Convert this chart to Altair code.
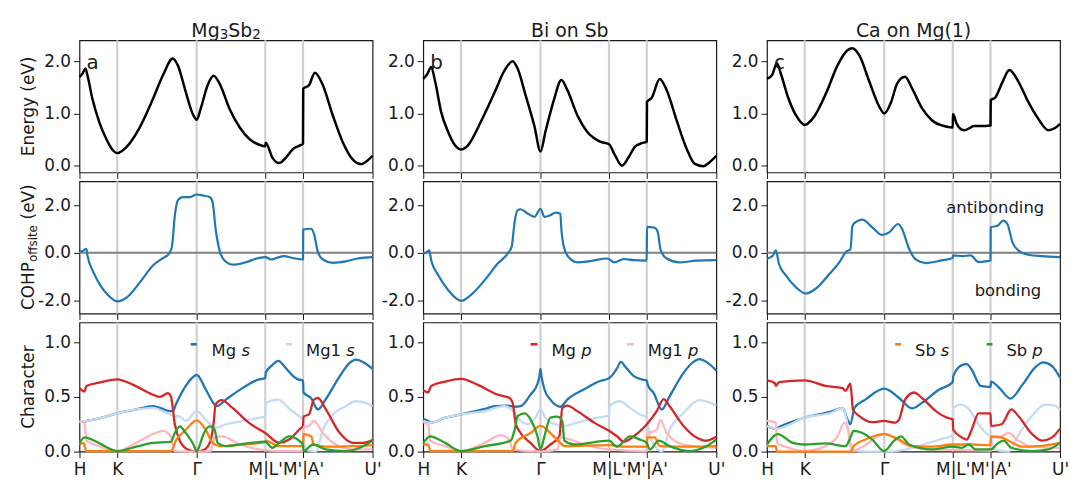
import json

import altair as alt
import pandas as pd

# ---------------------------------------------------------------------------
# k-path (shared by all panels)
# ---------------------------------------------------------------------------
K_TICKS = [0.0, 0.38, 1.18, 1.87, 2.25, 2.95]
K_NAMES = ["H", "K", "Γ", "M|L'", "M'|A'", "U'"]
K_LINES = [0.38, 1.18, 1.87, 2.25]

# column titles as (text, is_subscript) runs
MATERIALS = [
    [("Mg", False), ("3", True), ("Sb", False), ("2", True)],
    [("Bi on Sb", False)],
    [("Ca on Mg(1)", False)],
]
PANEL_TAGS = ["a", "b", "c"]

ORBITAL_COLORS = ["#1f77b4", "#c6dbef", "#d62728", "#ffb6c1", "#ff7f0e", "#2ca02c"]
LEGEND_WORDS = [["Mg", "Mg1"], ["Mg", "Mg1"], ["Sb", "Sb"]]
LEGEND_SHELLS = [["s", "s"], ["p", "p"], ["s", "p"]]
LEGEND_COLOR_IDX = [[0, 1], [2, 3], [4, 5]]

ENERGY_TICKS = [0.0, 1.0, 2.0]
COHP_TICKS = [-2.0, 0.0, 2.0]
CHAR_TICKS = [0.0, 0.5, 1.0]

# ---------------------------------------------------------------------------
# lowest conduction band, (k, E / eV)
# ---------------------------------------------------------------------------
BAND_A = [(0.00, 1.70), (0.03, 1.76), (0.06, 1.86), (0.08, 1.73), (0.13, 1.28), (0.20, 0.83),
          (0.27, 0.51), (0.33, 0.31), (0.38, 0.24), (0.47, 0.35), (0.60, 0.71), (0.74, 1.28),
          (0.84, 1.73), (0.94, 2.05), (0.99, 1.92), (1.07, 1.41), (1.14, 0.99), (1.18, 0.88),
          (1.22, 1.09), (1.29, 1.54), (1.35, 1.72), (1.41, 1.57), (1.51, 1.09), (1.61, 0.74),
          (1.71, 0.51), (1.81, 0.40), (1.87, 0.37), (1.875, 0.44), (1.94, 0.16), (2.01, 0.05),
          (2.08, 0.16), (2.15, 0.32), (2.21, 0.38), (2.25, 0.42), (2.252, 1.47), (2.31, 1.54),
          (2.37, 1.78), (2.45, 1.54), (2.55, 0.96), (2.65, 0.45), (2.75, 0.12), (2.83, 0.03),
          (2.90, 0.10), (2.95, 0.19)]
BAND_B = [(0.00, 1.66), (0.04, 1.75), (0.08, 1.89), (0.12, 1.61), (0.18, 1.03), (0.25, 0.65),
          (0.32, 0.39), (0.38, 0.31), (0.45, 0.39), (0.58, 0.84), (0.72, 1.41), (0.82, 1.83),
          (0.90, 2.00), (0.95, 1.86), (1.03, 1.35), (1.12, 0.75), (1.18, 0.27), (1.23, 0.65),
          (1.32, 1.29), (1.39, 1.64), (1.45, 1.45), (1.55, 0.97), (1.65, 0.65), (1.78, 0.46),
          (1.87, 0.41), (1.93, 0.20), (2.00, 0.00), (2.07, 0.17), (2.13, 0.36), (2.20, 0.43),
          (2.25, 0.46), (2.252, 1.22), (2.30, 1.30), (2.38, 1.66), (2.45, 1.45), (2.55, 0.87),
          (2.65, 0.33), (2.73, 0.04), (2.82, -0.01), (2.88, 0.06), (2.95, 0.19)]
BAND_C = [(0.00, 1.66), (0.05, 1.73), (0.10, 1.96), (0.14, 1.76), (0.21, 1.32), (0.29, 0.97),
          (0.38, 0.78), (0.46, 0.90), (0.60, 1.41), (0.71, 1.92), (0.81, 2.21), (0.86, 2.25),
          (0.93, 2.11), (1.03, 1.61), (1.13, 1.13), (1.18, 1.00), (1.25, 1.22), (1.31, 1.57),
          (1.39, 1.70), (1.46, 1.48), (1.56, 1.10), (1.66, 0.87), (1.80, 0.75), (1.87, 0.73),
          (1.872, 0.99), (1.91, 0.80), (1.95, 0.70), (1.99, 0.68), (2.04, 0.72), (2.08, 0.76),
          (2.15, 0.76), (2.25, 0.77), (2.252, 1.25), (2.30, 1.31), (2.37, 1.60), (2.44, 1.83),
          (2.53, 1.61), (2.63, 1.22), (2.73, 0.90), (2.83, 0.68), (2.90, 0.72), (2.95, 0.80)]

# ---------------------------------------------------------------------------
# offsite COHP of the band, (k, eV)
# ---------------------------------------------------------------------------
COHP_A = [(0.00, 0.03), (0.04, 0.10), (0.07, 0.17), (0.08, -0.11), (0.14, -0.81), (0.21, -1.37),
          (0.29, -1.79), (0.38, -2.04), (0.48, -1.86), (0.61, -1.23), (0.74, -0.53), (0.84, -0.22),
          (0.90, -0.04), (0.93, 0.24), (0.96, 1.57), (0.99, 2.20), (1.04, 2.34), (1.11, 2.34),
          (1.18, 2.45), (1.24, 2.41), (1.31, 2.34), (1.34, 2.13), (1.37, 1.01), (1.41, 0.10),
          (1.46, -0.32), (1.55, -0.50), (1.68, -0.39), (1.81, -0.21), (1.87, -0.18), (1.93, -0.28),
          (1.98, -0.22), (2.06, -0.14), (2.15, -0.22), (2.25, -0.28), (2.252, 0.98), (2.33, 1.01),
          (2.36, 0.80), (2.40, 0.03), (2.45, -0.28), (2.55, -0.42), (2.68, -0.36), (2.82, -0.22),
          (2.95, -0.18)]
COHP_B = [(0.00, -0.03), (0.05, 0.07), (0.06, 0.11), (0.08, -0.31), (0.15, -0.93), (0.25, -1.56),
          (0.38, -2.02), (0.48, -1.77), (0.62, -1.14), (0.75, -0.45), (0.85, -0.03), (0.89, 0.25),
          (0.92, 1.30), (0.95, 1.79), (0.98, 1.83), (1.05, 1.65), (1.12, 1.51), (1.18, 1.85),
          (1.22, 1.51), (1.28, 1.58), (1.33, 1.69), (1.38, 1.65), (1.39, 1.02), (1.42, 0.18),
          (1.47, -0.21), (1.55, -0.40), (1.68, -0.35), (1.85, -0.24), (1.87, -0.26), (1.92, -0.40),
          (2.02, -0.26), (2.12, -0.31), (2.25, -0.33), (2.252, 1.09), (2.33, 1.05), (2.36, 0.88),
          (2.39, 0.11), (2.45, -0.24), (2.58, -0.40), (2.75, -0.33), (2.95, -0.31)]
COHP_C = [(0.00, -0.25), (0.06, -0.11), (0.09, 0.10), (0.12, -0.46), (0.19, -0.95), (0.29, -1.44),
          (0.39, -1.71), (0.49, -1.51), (0.63, -0.88), (0.73, -0.39), (0.80, 0.06), (0.84, 0.14),
          (0.86, 1.14), (0.90, 1.31), (0.96, 1.39), (1.06, 1.07), (1.16, 0.75), (1.23, 0.86),
          (1.32, 1.21), (1.36, 1.00), (1.43, 0.17), (1.50, -0.29), (1.60, -0.43), (1.76, -0.32),
          (1.87, -0.22), (1.872, -0.11), (1.97, -0.14), (2.05, -0.11), (2.13, -0.39), (2.20, -0.36),
          (2.25, -0.32), (2.252, 1.07), (2.32, 1.14), (2.38, 1.35), (2.42, 1.21), (2.47, 0.45),
          (2.53, 0.10), (2.63, -0.08), (2.77, -0.14), (2.95, -0.18)]

# ---------------------------------------------------------------------------
# orbital character of the band, (k, fraction)
# ---------------------------------------------------------------------------
CHAR_A_MG_S = [(0.00, 0.28), (0.05, 0.27), (0.07, 0.28), (0.13, 0.29), (0.38, 0.35), (0.57, 0.385),
               (0.74, 0.415), (0.81, 0.40), (0.91, 0.37), (0.94, 0.37), (0.97, 0.43), (1.07, 0.60),
               (1.18, 0.70), (1.27, 0.57), (1.36, 0.43), (1.38, 0.415), (1.48, 0.48), (1.64, 0.58),
               (1.81, 0.66), (1.87, 0.67), (1.875, 0.72), (1.94, 0.79), (2.00, 0.83), (2.08, 0.76),
               (2.15, 0.69), (2.20, 0.66), (2.25, 0.65), (2.255, 0.54), (2.33, 0.49), (2.40, 0.385),
               (2.48, 0.48), (2.62, 0.69), (2.72, 0.81), (2.78, 0.84), (2.87, 0.81), (2.95, 0.755)]
CHAR_A_MG1_S = [(0.00, 0.27), (0.07, 0.28), (0.13, 0.29), (0.38, 0.35), (0.57, 0.385), (0.74, 0.40),
                (0.87, 0.355), (0.94, 0.33), (1.01, 0.32), (1.07, 0.28), (1.18, 0.37), (1.27, 0.29),
                (1.37, 0.22), (1.48, 0.25), (1.64, 0.28), (1.81, 0.31), (1.87, 0.32), (1.875, 0.445),
                (2.00, 0.475), (2.12, 0.385), (2.21, 0.325), (2.25, 0.29), (2.255, 0.08), (2.30, 0.01),
                (2.38, 0.0), (2.45, 0.20), (2.55, 0.34), (2.68, 0.415), (2.78, 0.46), (2.88, 0.445),
                (2.95, 0.415)]
CHAR_A_MG_P = [(0.00, 0.58), (0.05, 0.55), (0.07, 0.60), (0.20, 0.63), (0.38, 0.66), (0.54, 0.61),
               (0.74, 0.52), (0.81, 0.50), (0.89, 0.535), (0.92, 0.505), (0.96, 0.25), (1.01, 0.10),
               (1.09, 0.02), (1.18, 0.0), (1.26, 0.02), (1.32, 0.10), (1.35, 0.26), (1.37, 0.43),
               (1.43, 0.47), (1.54, 0.40), (1.71, 0.26), (1.87, 0.17), (2.01, 0.08), (2.11, 0.11),
               (2.21, 0.20), (2.25, 0.235), (2.255, 0.32), (2.31, 0.34), (2.36, 0.475), (2.40, 0.49),
               (2.48, 0.385), (2.62, 0.17), (2.75, 0.08), (2.85, 0.08), (2.95, 0.105)]
CHAR_A_MG1_P = [(0.00, 0.28), (0.05, 0.26), (0.07, 0.10), (0.20, 0.05), (0.38, 0.005), (0.54, 0.065),
                (0.74, 0.16), (0.84, 0.19), (0.92, 0.14), (0.955, 0.005), (1.18, 0.0), (1.32, 0.005),
                (1.36, 0.13), (1.44, 0.14), (1.61, 0.065), (1.81, 0.02), (2.01, 0.005), (2.25, 0.005),
                (2.255, 0.22), (2.31, 0.235), (2.36, 0.28), (2.45, 0.17), (2.58, 0.065), (2.75, 0.02),
                (2.95, 0.02)]
CHAR_A_SB_S = [(0.00, 0.065), (0.04, 0.08), (0.07, 0.005), (0.92, 0.005), (0.97, 0.10), (1.07, 0.20),
               (1.18, 0.285), (1.27, 0.20), (1.34, 0.08), (1.41, 0.05), (1.64, 0.065), (1.87, 0.09),
               (1.875, 0.10), (2.01, 0.05), (2.25, 0.05), (2.255, 0.16), (2.33, 0.14), (2.36, 0.065),
               (2.48, 0.045), (2.75, 0.05), (2.95, 0.06)]
CHAR_A_SB_P = [(0.00, 0.075), (0.05, 0.13), (0.17, 0.09), (0.38, 0.005), (0.57, 0.045), (0.74, 0.08),
               (0.92, 0.09), (0.96, 0.17), (1.01, 0.23), (1.07, 0.17), (1.15, 0.06), (1.18, 0.0),
               (1.21, 0.06), (1.24, 0.14), (1.31, 0.23), (1.36, 0.20), (1.39, 0.08), (1.47, 0.05),
               (1.68, 0.075), (1.87, 0.09), (1.94, 0.035), (2.01, 0.08), (2.11, 0.14), (2.21, 0.10),
               (2.25, 0.065), (2.255, 0.005), (2.35, 0.065), (2.48, 0.02), (2.68, 0.005), (2.82, 0.035),
               (2.95, 0.10)]

CHAR_B_MG_S = [(0.00, 0.30), (0.05, 0.28), (0.08, 0.265), (0.22, 0.31), (0.38, 0.34), (0.62, 0.39),
               (0.72, 0.415), (0.85, 0.42), (0.92, 0.41), (0.98, 0.415), (1.08, 0.52), (1.15, 0.62),
               (1.17, 0.69), (1.18, 0.755), (1.19, 0.69), (1.22, 0.57), (1.28, 0.475), (1.38, 0.41),
               (1.45, 0.475), (1.62, 0.57), (1.78, 0.645), (1.87, 0.67), (1.95, 0.76), (1.99, 0.82),
               (2.03, 0.78), (2.12, 0.69), (2.20, 0.66), (2.25, 0.65), (2.26, 0.61), (2.32, 0.535),
               (2.40, 0.385), (2.48, 0.505), (2.62, 0.72), (2.72, 0.82), (2.78, 0.845), (2.85, 0.82),
               (2.95, 0.74)]
CHAR_B_MG1_S = [(0.00, 0.28), (0.08, 0.265), (0.22, 0.31), (0.38, 0.34), (0.62, 0.37), (0.82, 0.415),
                (0.92, 0.355), (0.98, 0.28), (1.05, 0.25), (1.13, 0.31), (1.18, 0.385), (1.23, 0.31),
                (1.32, 0.25), (1.42, 0.235), (1.55, 0.265), (1.75, 0.31), (1.87, 0.33), (1.875, 0.415),
                (1.98, 0.46), (2.08, 0.40), (2.18, 0.34), (2.25, 0.31), (2.28, 0.14), (2.35, 0.035),
                (2.40, 0.0), (2.48, 0.20), (2.62, 0.355), (2.78, 0.47), (2.88, 0.45), (2.95, 0.42)]
CHAR_B_MG_P = [(0.00, 0.56), (0.05, 0.54), (0.08, 0.60), (0.22, 0.64), (0.38, 0.665), (0.55, 0.61),
               (0.75, 0.52), (0.87, 0.49), (0.90, 0.445), (0.93, 0.26), (0.98, 0.17), (1.08, 0.08),
               (1.18, 0.005), (1.28, 0.065), (1.37, 0.14), (1.40, 0.40), (1.45, 0.42), (1.55, 0.37),
               (1.72, 0.265), (1.87, 0.19), (1.95, 0.14), (2.02, 0.09), (2.12, 0.14), (2.22, 0.22),
               (2.25, 0.25), (2.35, 0.37), (2.42, 0.48), (2.48, 0.415), (2.62, 0.235), (2.75, 0.13),
               (2.85, 0.10), (2.95, 0.135)]
CHAR_B_MG1_P = [(0.00, 0.27), (0.05, 0.25), (0.07, 0.10), (0.22, 0.05), (0.38, 0.005), (0.62, 0.08),
                (0.78, 0.15), (0.87, 0.10), (0.90, 0.02), (1.18, 0.0), (1.35, 0.02), (1.38, 0.13),
                (1.48, 0.11), (1.62, 0.065), (1.87, 0.02), (2.25, 0.005), (2.255, 0.16), (2.35, 0.20),
                (2.39, 0.29), (2.45, 0.17), (2.62, 0.065), (2.95, 0.035)]
CHAR_B_SB_S = [(0.00, 0.065), (0.05, 0.065), (0.07, 0.005), (0.90, 0.005), (0.93, 0.08), (1.08, 0.17),
               (1.18, 0.235), (1.28, 0.17), (1.38, 0.08), (1.42, 0.05), (1.87, 0.06), (2.02, 0.045),
               (2.25, 0.045), (2.255, 0.13), (2.33, 0.13), (2.38, 0.05), (2.62, 0.045), (2.95, 0.05)]
CHAR_B_SB_P = [(0.00, 0.08), (0.07, 0.14), (0.22, 0.08), (0.38, 0.005), (0.62, 0.05), (0.88, 0.10),
               (0.92, 0.20), (0.95, 0.325), (1.02, 0.35), (1.08, 0.295), (1.15, 0.14), (1.18, 0.02),
               (1.22, 0.14), (1.28, 0.31), (1.35, 0.32), (1.40, 0.28), (1.42, 0.10), (1.52, 0.065),
               (1.87, 0.10), (1.95, 0.045), (2.08, 0.14), (2.18, 0.11), (2.25, 0.08), (2.28, 0.02),
               (2.37, 0.10), (2.48, 0.05), (2.68, 0.005), (2.85, 0.05), (2.95, 0.11)]

CHAR_C_MG_S = [(0.00, 0.235), (0.09, 0.21), (0.11, 0.22), (0.38, 0.31), (0.66, 0.37), (0.76, 0.40),
               (0.81, 0.295), (0.84, 0.25), (0.88, 0.40), (0.99, 0.475), (1.18, 0.575), (1.33, 0.49),
               (1.46, 0.395), (1.56, 0.445), (1.73, 0.565), (1.87, 0.635), (1.875, 0.69), (1.96, 0.79),
               (2.01, 0.80), (2.06, 0.75), (2.15, 0.60), (2.25, 0.59), (2.255, 0.64), (2.33, 0.59),
               (2.45, 0.485), (2.57, 0.61), (2.70, 0.77), (2.78, 0.815), (2.87, 0.78), (2.95, 0.675)]
CHAR_C_MG1_S = [(0.00, 0.235), (0.10, 0.21), (0.38, 0.31), (0.66, 0.36), (0.76, 0.40), (0.80, 0.30),
                (0.85, 0.02), (1.00, 0.0), (1.20, 0.0), (1.40, 0.02), (1.56, 0.06), (1.73, 0.11),
                (1.87, 0.15), (1.875, 0.40), (1.95, 0.43), (2.02, 0.40), (2.13, 0.25), (2.23, 0.15),
                (2.25, 0.14), (2.29, 0.02), (2.43, 0.0), (2.53, 0.15), (2.67, 0.33), (2.80, 0.43),
                (2.90, 0.42), (2.95, 0.38)]
CHAR_C_MG_P = [(0.00, 0.65), (0.08, 0.625), (0.09, 0.60), (0.12, 0.635), (0.38, 0.65), (0.59, 0.60),
               (0.76, 0.58), (0.79, 0.555), (0.84, 0.62), (0.865, 0.385), (0.93, 0.325), (1.06, 0.27),
               (1.18, 0.28), (1.29, 0.265), (1.33, 0.295), (1.39, 0.475), (1.48, 0.54), (1.56, 0.49),
               (1.70, 0.37), (1.81, 0.31), (1.87, 0.295), (1.875, 0.20), (1.96, 0.13), (2.01, 0.11),
               (2.06, 0.20), (2.13, 0.35), (2.25, 0.35), (2.255, 0.235), (2.36, 0.25), (2.46, 0.385),
               (2.53, 0.325), (2.67, 0.16), (2.77, 0.10), (2.87, 0.13), (2.95, 0.21)]
CHAR_C_MG1_P = [(0.00, 0.28), (0.09, 0.265), (0.10, 0.08), (0.22, 0.035), (0.38, 0.005), (0.59, 0.05),
                (0.71, 0.14), (0.78, 0.265), (0.83, 0.14), (0.85, 0.005), (0.96, 0.045), (1.18, 0.16),
                (1.33, 0.10), (1.43, 0.05), (1.66, 0.02), (2.25, 0.01), (2.255, 0.13), (2.33, 0.13),
                (2.43, 0.17), (2.53, 0.10), (2.67, 0.045), (2.95, 0.035)]
CHAR_C_SB_S = [(0.00, 0.05), (0.09, 0.05), (0.10, 0.0), (0.85, 0.0), (0.87, 0.05), (0.99, 0.11),
               (1.18, 0.16), (1.33, 0.11), (1.46, 0.05), (1.66, 0.045), (1.87, 0.065), (2.06, 0.065),
               (2.25, 0.06), (2.255, 0.14), (2.36, 0.13), (2.47, 0.08), (2.57, 0.045), (2.73, 0.05),
               (2.95, 0.08)]
CHAR_C_SB_P = [(0.00, 0.065), (0.11, 0.16), (0.26, 0.08), (0.38, 0.065), (0.59, 0.075), (0.79, 0.05),
               (0.84, 0.13), (0.87, 0.19), (0.96, 0.17), (1.06, 0.11), (1.18, 0.005), (1.28, 0.10),
               (1.35, 0.14), (1.43, 0.065), (1.66, 0.02), (1.87, 0.045), (1.96, 0.035), (2.03, 0.065),
               (2.10, 0.02), (2.25, 0.02), (2.33, 0.08), (2.38, 0.10), (2.46, 0.035), (2.67, 0.005),
               (2.83, 0.02), (2.95, 0.08)]

BANDS = [BAND_A, BAND_B, BAND_C]
COHPS = [COHP_A, COHP_B, COHP_C]
CHARACTERS = [
    [CHAR_A_MG_S, CHAR_A_MG1_S, CHAR_A_MG_P, CHAR_A_MG1_P, CHAR_A_SB_S, CHAR_A_SB_P],
    [CHAR_B_MG_S, CHAR_B_MG1_S, CHAR_B_MG_P, CHAR_B_MG1_P, CHAR_B_SB_S, CHAR_B_SB_P],
    [CHAR_C_MG_S, CHAR_C_MG1_S, CHAR_C_MG_P, CHAR_C_MG1_P, CHAR_C_SB_S, CHAR_C_SB_P],
]

# ---------------------------------------------------------------------------
# layout / styling
# ---------------------------------------------------------------------------
PANEL_W = 295
ROW_H = [133, 133, 130]
Y_DOMAINS = [[-0.13, 2.4], [-2.55, 3.0], [0.0, 1.18]]
Y_TICKS = [ENERGY_TICKS, COHP_TICKS, CHAR_TICKS]
INK = "#1a1a1a"
FS = 17
TITLE_FS = 19
SUB_FS = 13.5
# DejaVu Sans advance widths (em) used to lay out the title runs
ADVANCE = {"M": 0.863, "g": 0.635, "S": 0.635, "b": 0.635, "2": 0.636, "3": 0.636}

_parts = []
for _i in range(len(K_TICKS) - 1):
    _mid = (K_TICKS[_i] + K_TICKS[_i + 1]) / 2
    _parts.append(f"datum.value < {_mid:.3f} ? {json.dumps(K_NAMES[_i], ensure_ascii=False)} : ")
K_LABEL_EXPR = "".join(_parts) + json.dumps(K_NAMES[-1], ensure_ascii=False)

X_SCALE = alt.Scale(domain=[K_TICKS[0], K_TICKS[-1]], nice=False, zero=False)


def k_channel(row):
    if row == 2:
        axis = alt.Axis(values=K_TICKS, labelExpr=K_LABEL_EXPR, title=None, labelFlush=False,
                        labelOverlap=False, labelPadding=4, labelFontSize=FS)
    else:
        axis = alt.Axis(values=K_TICKS, labels=False, title=None)
    return alt.X("k:Q", scale=X_SCALE, axis=axis)


def v_channel(row):
    return alt.Y("v:Q",
                 scale=alt.Scale(domain=Y_DOMAINS[row], nice=False, zero=False),
                 axis=alt.Axis(values=Y_TICKS[row], title=None, labelFontSize=FS, labelPadding=3,
                               labelExpr="replace(format(datum.value, '.1f'), '\u2212', '-')"))


def curve(points, row, color, width):
    df = pd.DataFrame(points, columns=["k", "v"])
    df["i"] = range(len(df))
    return alt.Chart(df).mark_line(interpolate="monotone", color=color, strokeWidth=width,
                                   strokeJoin="round").encode(
        x=k_channel(row), y=v_channel(row), order="i:Q")


def note(text, x, y, size, **style):
    return alt.Chart(pd.DataFrame({"text": [text]})).mark_text(
        fontSize=size, color=INK, **style).encode(
        text="text:N", x=alt.value(x), y=alt.value(y))


def dash(x0, x1, y, color):
    return alt.Chart(pd.DataFrame({"n": [0]})).mark_rule(color=color, strokeWidth=2.6).encode(
        x=alt.value(x0), x2=alt.value(x1), y=alt.value(y))


def title_layers(runs):
    """Column title centred over the panel, with lowered subscript runs."""
    if len(runs) == 1:
        return [note(runs[0][0], PANEL_W / 2, -9.5, TITLE_FS, align="center")]
    widths = [sum(ADVANCE[ch] for ch in txt) * (SUB_FS if sub else TITLE_FS) for txt, sub in runs]
    x = PANEL_W / 2 - sum(widths) / 2
    out = []
    for (txt, sub), w in zip(runs, widths):
        out.append(note(txt, x, -9.5 + (4.5 if sub else 0), SUB_FS if sub else TITLE_FS,
                        align="left"))
        x += w
    return out


def panel(row, col):
    h = ROW_H[row]
    layers = [
        alt.Chart(pd.DataFrame({"k": K_LINES})).mark_rule(color="#d0d0d0", strokeWidth=2.2).encode(
            x=k_channel(row))
    ]
    if row == 1:
        layers.append(alt.Chart(pd.DataFrame({"v": [0.0]})).mark_rule(
            color="#808080", strokeWidth=2).encode(y=v_channel(row)))

    if row == 0:
        layers.append(curve(BANDS[col], row, "black", 2.5))
        layers += title_layers(MATERIALS[col])
        layers.append(note(PANEL_TAGS[col], 7, 22.5, 20, align="left"))
    elif row == 1:
        layers.append(curve(COHPS[col], row, "#1f77b4", 2.2))
    else:
        for series, color in zip(CHARACTERS[col], ORBITAL_COLORS):
            layers.append(curve(series, row, color, 2.3))

    # y-axis titles on the first column
    if col == 0 and row == 0:
        layers.append(note("Energy (eV)", -50.7, h / 2, FS, angle=270, align="center"))
        # keeps the page origin fixed at the top-left corner of the figure
        layers.append(alt.Chart(pd.DataFrame({"n": [0]})).mark_rule(
            color="white", strokeWidth=1).encode(
            x=alt.value(-78.5), x2=alt.value(-77.5), y=alt.value(-37.5)))
    if col == 0 and row == 1:
        layers.append(note("COHP", -50.7, 129.5, FS, angle=270, align="left"))
        layers.append(note("offsite", -46.5, 81.2, 12, angle=270, align="left"))
        layers.append(note("(eV)", -50.7, 38.3, FS, angle=270, align="left"))
    if col == 0 and row == 2:
        layers.append(note("Character", -50.7, h / 2, FS, angle=270, align="center"))

    if row == 1 and col == 2:
        layers.append(note("antibonding", 279, 26.7, 16.5, align="right"))
        layers.append(note("bonding", 276, 110, 16.5, align="right"))

    if row == 2:
        dash_x = [[(112, 118), (208, 214)], [(108, 115), (205, 212)], [(129, 135), (221, 227)]][col]
        word_x = [[133, 228], [129, 226], [149, 241]][col]
        shell_x = [[163, 268.5], [159, 266.5], [175, 267]][col]
        for j in range(2):
            color = ORBITAL_COLORS[LEGEND_COLOR_IDX[col][j]]
            layers.append(dash(dash_x[j][0], dash_x[j][1], 22, color))
            layers.append(note(LEGEND_WORDS[col][j], word_x[j], 28.5, 16.5, align="left"))
            layers.append(note(LEGEND_SHELLS[col][j], shell_x[j], 28.5, 16.5, align="left",
                               fontStyle="italic"))

    return alt.layer(*layers).properties(width=PANEL_W, height=h)


panels = [panel(r, c) for r in range(3) for c in range(3)]

chart = alt.concat(
    *panels, columns=3, spacing={"row": 9, "column": 51}, bounds="flush"
).properties(
    padding=0
).configure(
    font="DejaVu Sans"
).configure_axis(
    domain=False, grid=False, ticks=True, tickSize=6, tickWidth=1, tickColor=INK,
    labelColor=INK, labelFont="DejaVu Sans"
).configure_view(
    stroke=INK, strokeWidth=1.2
)

chart.save("out.html", embed_options={"renderer": "svg", "actions": False})
